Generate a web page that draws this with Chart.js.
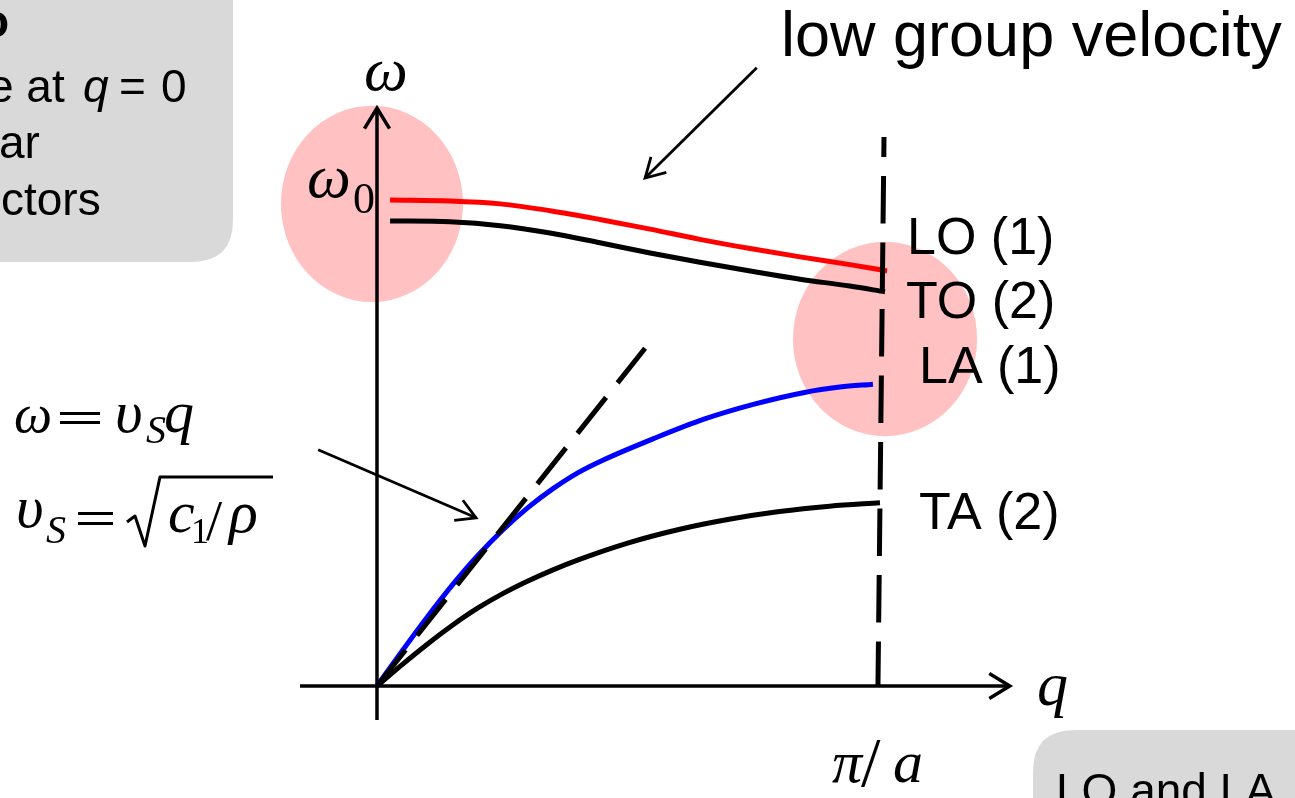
<!DOCTYPE html>
<html>
<head>
<meta charset="utf-8">
<script src="https://cdn.jsdelivr.net/npm/chart.js@4.4.1/dist/chart.umd.min.js"></script>
<style>
  html, body { margin: 0; padding: 0; background: #ffffff; overflow: hidden; }
  #wrap { width: 1295px; height: 798px; position: relative; }
</style>
</head>
<body>
<div id="wrap"><canvas id="c" width="1295" height="798"></canvas></div>
<script>
// Wave vector q in units of pi/a, frequency in units of omega_0.

// Longitudinal optical branch (LO)
const qLO = [0.026, 0.145, 0.245, 0.344, 0.443, 0.543, 0.642, 0.742, 0.841, 0.940, 1.014];
const wLO = [1.000, 0.998, 0.992, 0.978, 0.960, 0.940, 0.919, 0.900, 0.883, 0.867, 0.854];

// Transverse optical branch (TO)
const qTO = [0.026, 0.145, 0.245, 0.344, 0.443, 0.543, 0.642, 0.742, 0.841, 0.940, 1.010];
const wTO = [0.957, 0.955, 0.947, 0.932, 0.912, 0.891, 0.872, 0.854, 0.837, 0.823, 0.811];

// Longitudinal acoustic branch (LA)
const qLA = [0, 0.05, 0.10, 0.15, 0.20, 0.25, 0.30, 0.35, 0.40, 0.45, 0.55, 0.65, 0.75, 0.85, 0.92, 0.986];
const wLA = [0, 0.072, 0.142, 0.208, 0.268, 0.321, 0.367, 0.406, 0.439, 0.465, 0.509, 0.549, 0.580, 0.604, 0.615, 0.621];

// Transverse acoustic branch (TA)
const qTA = [0, 0.05, 0.10, 0.15, 0.20, 0.25, 0.30, 0.35, 0.40, 0.50, 0.60, 0.70, 0.80, 0.90, 1.00];
const wTA = [0, 0.044, 0.086, 0.125, 0.160, 0.190, 0.216, 0.239, 0.2595, 0.2945, 0.322, 0.343, 0.359, 0.370, 0.377];

// Long-wavelength limit omega = v_s q
const qSound = [0, 0.533];
const wSound = [0, 0.695];

// Brillouin zone boundary q = pi/a (drawn top to bottom)
const qZone = [1.008, 0.996];
const wZone = [1.1296, 0];

// Axis lines
const qAxisX = [-0.153, 1.258];
const wAxisX = [0, 0];
const qAxisY = [0, 0];
const wAxisY = [-0.070, 1.189];

const zip = (xs, ys) => xs.map((x, i) => ({ x: x, y: ys[i] }));

function roundRect(ctx, x, y, w, h, r) {
  ctx.beginPath();
  ctx.moveTo(x + r, y);
  ctx.lineTo(x + w - r, y);
  ctx.quadraticCurveTo(x + w, y, x + w, y + r);
  ctx.lineTo(x + w, y + h - r);
  ctx.quadraticCurveTo(x + w, y + h, x + w - r, y + h);
  ctx.lineTo(x + r, y + h);
  ctx.quadraticCurveTo(x, y + h, x, y + h - r);
  ctx.lineTo(x, y + r);
  ctx.quadraticCurveTo(x, y, x + r, y);
  ctx.closePath();
}

function arrow(ctx, x1, y1, x2, y2, size, width) {
  const a = Math.atan2(y2 - y1, x2 - x1);
  ctx.lineWidth = width;
  ctx.lineCap = 'butt';
  ctx.beginPath();
  ctx.moveTo(x1, y1);
  ctx.lineTo(x2, y2);
  ctx.stroke();
  ctx.beginPath();
  ctx.moveTo(x2 - size * Math.cos(a - 0.52), y2 - size * Math.sin(a - 0.52));
  ctx.lineTo(x2, y2);
  ctx.lineTo(x2 - size * Math.cos(a + 0.52), y2 - size * Math.sin(a + 0.52));
  ctx.stroke();
}

function txt(ctx, s, x, y, font) {
  ctx.font = font;
  ctx.fillText(s, x, y);
}

function equals(ctx, x1, x2, yTop, gap) {
  ctx.fillRect(x1, yTop, x2 - x1, 3);
  ctx.fillRect(x1, yTop + gap, x2 - x1, 3);
}

const SANS = '"Liberation Sans", Arial, sans-serif';
const SERIF = '"Liberation Serif", "Times New Roman", serif';

const slide = {
  id: 'slide',
  beforeDatasetsDraw(chart) {
    const ctx = chart.ctx;
    const xs = chart.scales.x, ys = chart.scales.y;
    const X = v => xs.getPixelForValue(v), Y = v => ys.getPixelForValue(v);
    ctx.save();
    // side note boxes
    ctx.fillStyle = '#d9d9d9';
    roundRect(ctx, -80, -80, 313, 342, 42);
    ctx.fill();
    roundRect(ctx, 1033, 730, 420, 200, 42);
    ctx.fill();
    // highlighted regions near q = 0 and q = pi/a
    ctx.fillStyle = 'rgb(255,193,193)';
    const spots = [[-0.010, 0.992, 0.181, 0.202], [1.010, 0.714, 0.183, 0.200]];
    spots.forEach(s => {
      const cx = X(s[0]), cy = Y(s[1]);
      const rx = X(s[0] + s[2]) - cx, ry = cy - Y(s[1] + s[3]);
      ctx.beginPath();
      ctx.ellipse(cx, cy, rx, ry, 0, 0, Math.PI * 2);
      ctx.fill();
    });
    ctx.restore();
  },
  afterDatasetsDraw(chart) {
    const ctx = chart.ctx;
    const xs = chart.scales.x, ys = chart.scales.y;
    const X = v => xs.getPixelForValue(v), Y = v => ys.getPixelForValue(v);
    ctx.save();
    ctx.strokeStyle = '#000';
    ctx.fillStyle = '#000';
    ctx.lineJoin = 'miter';

    // arrow heads of the axes
    ctx.lineWidth = 3.5;
    [[qAxisX, wAxisX], [qAxisY, wAxisY]].forEach(ax => {
      const x1 = X(ax[0][0]), y1 = Y(ax[1][0]);
      const x2 = X(ax[0][1]), y2 = Y(ax[1][1]);
      const a = Math.atan2(y2 - y1, x2 - x1);
      const sz = 24;
      ctx.beginPath();
      ctx.moveTo(x2 - sz * Math.cos(a - 0.55), y2 - sz * Math.sin(a - 0.55));
      ctx.lineTo(x2, y2);
      ctx.lineTo(x2 - sz * Math.cos(a + 0.55), y2 - sz * Math.sin(a + 0.55));
      ctx.stroke();
    });

    // pointer arrows
    arrow(ctx, X(0.755), Y(1.272), X(0.533), Y(1.045), 22, 2.8);
    arrow(ctx, X(-0.117), Y(0.486), X(0.197), Y(0.346), 22, 2.8);

    ctx.textBaseline = 'alphabetic';
    // title note
    txt(ctx, 'low group velocity', 781, 56, '63px ' + SANS);

    // branch labels
    const lab = '52px ' + SANS;
    txt(ctx, 'LO (1)', 907, 254, lab);
    txt(ctx, 'TO (2)', 906, 318, lab);
    txt(ctx, 'LA (1)', 919, 383, lab);
    txt(ctx, 'TA (2)', 919, 529, lab);

    // axis symbols
    txt(ctx, 'ω', 364, 90, 'italic 62px ' + SERIF);
    txt(ctx, 'ω', 307, 197, 'italic 62px ' + SERIF);
    txt(ctx, '0', 353, 213, '44px ' + SERIF);
    txt(ctx, 'q', 1037, 705, 'italic 62px ' + SERIF);
    txt(ctx, 'π', 832, 782, 'italic 60px ' + SERIF);
    txt(ctx, '/', 861, 786, '70px ' + SERIF);
    txt(ctx, 'a', 893, 782, 'italic 60px ' + SERIF);

    // sound velocity formulas
    const m = 'italic 60px ' + SERIF;
    txt(ctx, 'ω', 14, 432, 'italic 54px ' + SERIF);
    equals(ctx, 60, 100, 412, 9);
    txt(ctx, 'υ', 115, 432, m);
    txt(ctx, 'S', 146, 443, 'italic 40px ' + SERIF);
    txt(ctx, 'q', 164, 432, m);

    txt(ctx, 'υ', 16, 527, m);
    txt(ctx, 'S', 46, 543, 'italic 40px ' + SERIF);
    equals(ctx, 78, 113, 512, 10);
    ctx.lineWidth = 3;
    ctx.lineJoin = 'round';
    ctx.beginPath();
    ctx.moveTo(127, 522);
    ctx.lineTo(135, 516);
    ctx.lineTo(145, 546);
    ctx.lineTo(160, 477);
    ctx.lineTo(273, 477);
    ctx.stroke();
    txt(ctx, 'c', 168, 532, m);
    txt(ctx, '1', 191, 543, '36px ' + SERIF);
    txt(ctx, '/', 206, 540, '58px ' + SERIF);
    txt(ctx, 'ρ', 229, 532, m);

    // side note text
    const note = '46px ' + SANS;
    txt(ctx, 'o', -19, 37, 'bold 46px ' + SANS);
    txt(ctx, 'e at', -12, 102, note);
    txt(ctx, 'q', 83, 102, 'italic 46px ' + SANS);
    txt(ctx, '=', 119, 102, note);
    txt(ctx, '0', 161, 102, note);
    txt(ctx, 'ar', -1, 158, note);
    txt(ctx, 'ctors', 1, 215, note);
    txt(ctx, 'LO and LA', 1056, 806, note);
    ctx.restore();
  }
};

const line = (data, color, width, extra) => Object.assign({
  data: data,
  showLine: true,
  borderColor: color,
  borderWidth: width,
  pointRadius: 0,
  pointHoverRadius: 0,
  fill: false,
  clip: false,
  borderCapStyle: 'butt',
  tension: 0
}, extra || {});

new Chart(document.getElementById('c'), {
  type: 'scatter',
  data: {
    datasets: [
      line(zip(qSound, wSound), '#000000', 5, { borderDash: [46, 18.5] }),
      line(zip(qZone, wZone), '#000000', 5, { borderDash: [47.5, 19], borderDashOffset: 27.5 }),
      line(zip(qLO, wLO), '#ff0000', 5, { cubicInterpolationMode: 'monotone' }),
      line(zip(qTO, wTO), '#000000', 5, { cubicInterpolationMode: 'monotone' }),
      line(zip(qLA, wLA), '#0000ff', 5, { cubicInterpolationMode: 'monotone' }),
      line(zip(qTA, wTA), '#000000', 5, { cubicInterpolationMode: 'monotone' }),
      line(zip(qAxisX, wAxisX), '#000000', 3.5),
      line(zip(qAxisY, wAxisY), '#000000', 3.5)
    ]
  },
  options: {
    responsive: false,
    animation: false,
    devicePixelRatio: 1,
    layout: { padding: 0 },
    events: [],
    plugins: { legend: { display: false }, tooltip: { enabled: false } },
    scales: {
      x: { type: 'linear', display: false, min: -0.7495, max: 1.8251 },
      y: { type: 'linear', display: false, min: -0.2305, max: 1.4115 }
    }
  },
  plugins: [slide]
});
</script>
</body>
</html>
